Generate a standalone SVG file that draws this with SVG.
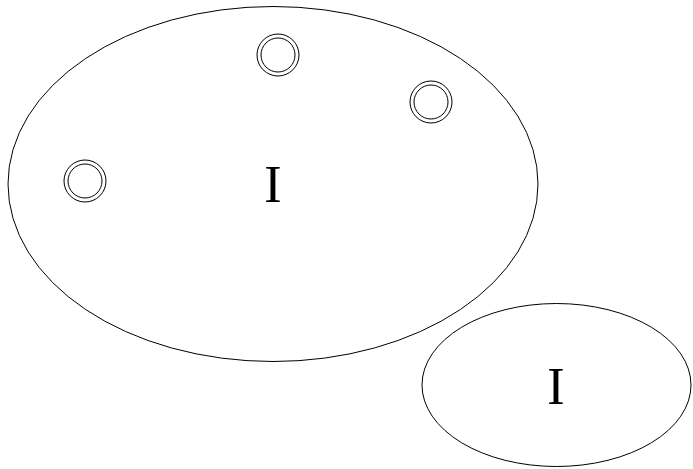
<svg xmlns="http://www.w3.org/2000/svg" width="693" height="469" viewBox="0 0 693 469">
<style>
.shape{fill:none;stroke:#000;stroke-width:1}
.lbl{font-family:"Liberation Serif","Times New Roman",serif;font-size:52px;fill:#000;text-anchor:middle}
</style>
<rect width="693" height="469" fill="#fff"/>
<g id="node-big">
<ellipse class="shape" cx="273" cy="184" rx="265" ry="177.5"/>
<text class="lbl" x="273" y="202">I</text>
</g>
<g id="node-c1">
<circle class="shape" cx="278" cy="55" r="21"/>
<circle class="shape" cx="278" cy="55" r="17"/>
</g>
<g id="node-c2">
<circle class="shape" cx="431" cy="102" r="21"/>
<circle class="shape" cx="431" cy="102" r="17"/>
</g>
<g id="node-c3">
<circle class="shape" cx="85" cy="181" r="21"/>
<circle class="shape" cx="85" cy="181" r="17"/>
</g>
<g id="node-small">
<ellipse class="shape" cx="556.5" cy="385" rx="134.5" ry="81.5"/>
<text class="lbl" x="556" y="404">I</text>
</g>
<g id="connectors"></g>
</svg>
